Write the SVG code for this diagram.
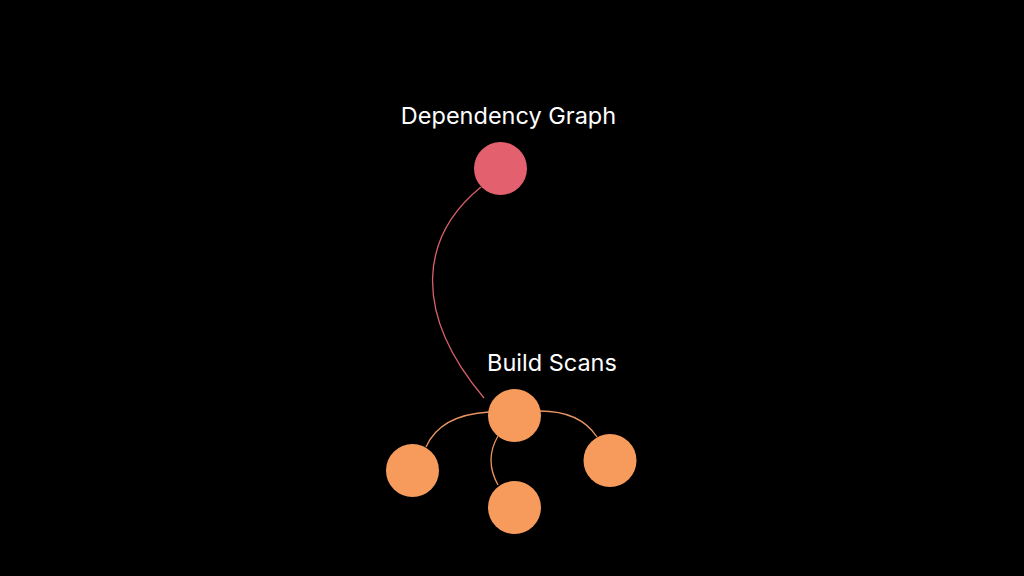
<svg xmlns="http://www.w3.org/2000/svg" width="1024" height="576" viewBox="0 0 1024 576">
<style>
.lbl{font-family:"Inter","Liberation Sans",sans-serif;font-size:23.5px;fill:#ffffff}
.o{fill:#f79b5d}
.r{fill:#e3606f}
.c{fill:none;stroke-width:1.3}
</style>
<rect width="1024" height="576" fill="#000"/>
<g id="connectors">
<path class="c" stroke="#d9606a" d="M481 187 C422 235 410 310 484 398"/>
<path class="c" stroke="#e89460" d="M489 412 Q440 415 426 447"/>
<path class="c" stroke="#e89460" d="M540 411 Q580 411 597 437"/>
<path class="c" stroke="#e89460" d="M498 436 Q484 460 498 485"/>
</g>
<g id="dependency-graph">
<circle class="r" cx="500.5" cy="168.5" r="26.5"/>
<text class="lbl" x="508.5" y="124" text-anchor="middle">Dependency Graph</text>
</g>
<g id="build-scans">
<circle class="o" cx="514.5" cy="415.5" r="26.5"/>
<text class="lbl" x="487" y="371">Build Scans</text>
</g>
<g id="child-left"><circle class="o" cx="412.5" cy="470.5" r="26.5"/></g>
<g id="child-bottom"><circle class="o" cx="514.5" cy="507.5" r="26.5"/></g>
<g id="child-right"><circle class="o" cx="610" cy="460.5" r="26.5"/></g>
</svg>
